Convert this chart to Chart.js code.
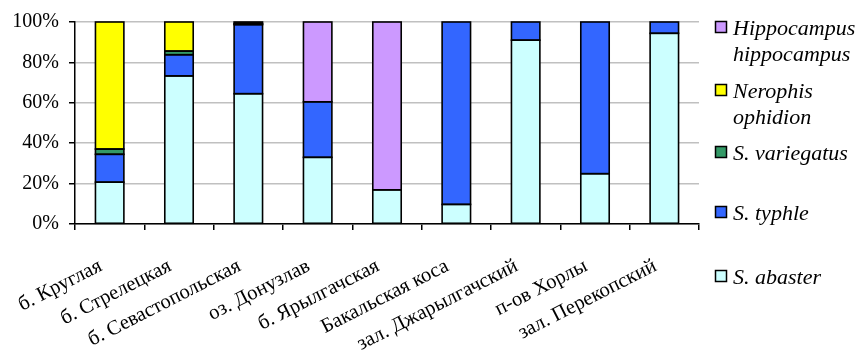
<!DOCTYPE html>
<html>
<head>
<meta charset="utf-8">
<script src="https://cdn.jsdelivr.net/npm/chart.js@4"></script>
<style>
  html, body { margin: 0; padding: 0; background: #fff; }
  #wrap { width: 860px; height: 359px; }
</style>
</head>
<body>
<div id="wrap"><canvas id="chart" width="860" height="359"></canvas></div>
<script>
const sites = ['б. Круглая', 'б. Стрелецкая', 'б. Севастопольская', 'оз. Донузлав',
  'б. Ярылгачская', 'Бакальская коса', 'зал. Джарылгачский', 'п-ов Хорлы', 'зал. Перекопский'];

// shares, %
const abaster     = [20.7, 73.3, 64.5, 33.0, 16.9,  9.7, 91.0, 24.9, 94.4];
const typhle      = [13.8, 10.5, 34.2, 27.5,  0.0, 90.3,  9.0, 75.1,  5.6];
const variegatus  = [ 2.6,  1.8,  0.5,  0.0,  0.0,  0.0,  0.0,  0.0,  0.0];
const nerophis    = [62.9, 14.4,  0.8,  0.0,  0.0,  0.0,  0.0,  0.0,  0.0];
const hippocampus = [ 0.0,  0.0,  0.0, 39.5, 83.1,  0.0,  0.0,  0.0,  0.0];

const yTicks = [0, 20, 40, 60, 80, 100];

const serif = '"Liberation Serif", "Times New Roman", serif';

// empty segments are left out so they draw nothing
const mk = (label, data, color) => ({
  label,
  data: data.map(v => (v > 0 ? v : null)),
  backgroundColor: color,
  borderWidth: 0,
  barPercentage: 0.41,
  categoryPercentage: 1
});

const datasets = [
  mk(['S. abaster'], abaster, '#CCFFFF'),
  mk(['S. typhle'], typhle, '#3366FF'),
  mk(['S. variegatus'], variegatus, '#339966'),
  mk(['Nerophis', 'ophidion'], nerophis, '#FFFF00'),
  mk(['Hippocampus', 'hippocampus'], hippocampus, '#CC99FF')
];

// black outline round every segment
const outlinePlugin = {
  id: 'outline',
  afterDatasetsDraw(chart) {
    const ctx = chart.ctx;
    ctx.save();
    ctx.strokeStyle = '#000';
    ctx.lineWidth = 1.6;
    chart.data.datasets.forEach((d, i) => {
      chart.getDatasetMeta(i).data.forEach((bar, j) => {
        if (d.data[j] == null) return;
        const { x, y, base, width } = bar.getProps(['x', 'y', 'base', 'width'], true);
        ctx.strokeRect(x - width / 2, y, width, base - y);
      });
    });
    ctx.restore();
  }
};

// legend drawn on canvas, top to bottom in reverse dataset order
const legendY = [28, 91, 153, 213, 277];
const legendPlugin = {
  id: 'sideLegend',
  afterDraw(chart) {
    const ctx = chart.ctx;
    ctx.save();
    ctx.font = 'italic 22px ' + serif;
    ctx.textBaseline = 'middle';
    const ds = chart.data.datasets.slice().reverse();
    ds.forEach((d, i) => {
      const y = legendY[i];
      ctx.fillStyle = d.backgroundColor;
      ctx.fillRect(715.5, y - 6.5, 11, 11);
      ctx.strokeStyle = '#000';
      ctx.lineWidth = 1.5;
      ctx.strokeRect(715.5, y - 6.5, 11, 11);
      ctx.fillStyle = '#000';
      d.label.forEach((line, j) => ctx.fillText(line, 733, y + 1 + j * 26));
    });
    ctx.restore();
  }
};

new Chart(document.getElementById('chart'), {
  type: 'bar',
  data: { labels: sites, datasets },
  plugins: [outlinePlugin, legendPlugin],
  options: {
    responsive: false,
    animation: false,
    layout: { padding: { left: 0, right: 161, top: 19, bottom: 0 } },
    plugins: { legend: { display: false }, tooltip: { enabled: false } },
    scales: {
      x: {
        stacked: true,
        grid: { offset: true, drawOnChartArea: false, tickColor: '#000', tickLength: 6, lineWidth: 1.5 },
        border: { color: '#000', width: 1.5 },
        ticks: {
          color: '#000', font: { family: serif, size: 20.5 },
          minRotation: 27, maxRotation: 27, autoSkip: false,
          padding: 24, labelOffset: -9
        },
        afterFit(s) { s.height = 135; }
      },
      y: {
        stacked: true,
        min: 0, max: 100,
        afterBuildTicks(s) { s.ticks = yTicks.map(v => ({ value: v })); },
        grid: { color: '#c0c0c0', lineWidth: 1.5, tickColor: '#000', tickLength: 6 },
        border: { color: '#000', width: 1.5 },
        ticks: {
          color: '#000', font: { family: serif, size: 20 }, padding: 10,
          callback: v => v + '%'
        },
        afterFit(s) { s.width = 75; }
      }
    }
  }
});
</script>
</body>
</html>
